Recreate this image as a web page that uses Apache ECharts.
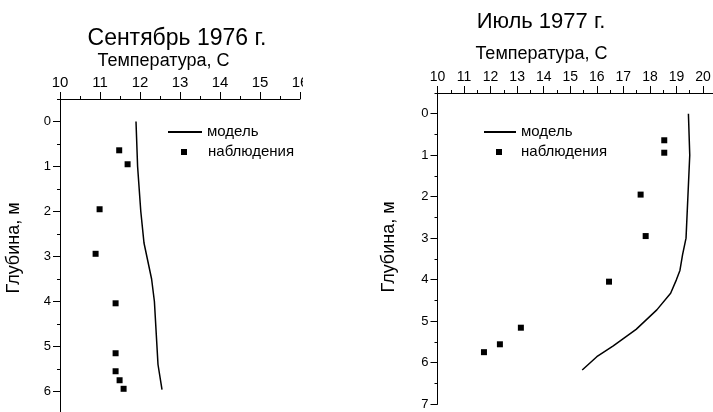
<!DOCTYPE html>
<html>
<head>
    <meta charset="utf-8">
    <title>Температура воды</title>
    <script src="https://cdn.jsdelivr.net/npm/echarts@6.0.0/dist/echarts.min.js"></script>
    <style>
        html, body {
            margin: 0;
            padding: 0;
            background: #fff;
        }

        #chart {
            width: 713px;
            height: 412px;
        }
    </style>
</head>
<body>
<div id="chart"></div>
<script>
    // Сентябрь 1976 г.
    var sepModelTemp = [11.90, 11.94, 12.02, 12.10, 12.29, 12.36, 12.45, 12.55];
    var sepModelDepth = [0, 1.0, 2.0, 2.7, 3.5, 4.0, 5.4, 5.96];
    var sepObsTemp = [11.48, 11.69, 10.99, 10.89, 11.39, 11.39, 11.39, 11.49, 11.59];
    var sepObsDepth = [0.64, 0.95, 1.95, 2.94, 4.04, 5.15, 5.55, 5.75, 5.94];

    // Июль 1977 г.
    var julModelTemp = [19.45, 19.50, 19.43, 19.36, 19.23, 19.13, 19.00, 18.78, 18.26, 17.48, 16.62, 16.00, 15.45];
    var julModelDepth = [0, 1.0, 2.0, 3.0, 3.4, 3.78, 4.0, 4.33, 4.73, 5.2, 5.6, 5.86, 6.18];
    var julObsTemp = [18.54, 18.54, 17.65, 17.84, 16.46, 13.14, 12.35, 11.75];
    var julObsDepth = [0.64, 0.94, 1.95, 2.95, 4.05, 5.16, 5.56, 5.75];

    // подписи осей
    var sepTempTicks = [10, 11, 12, 13, 14, 15, 16];
    var julTempTicks = [10, 11, 12, 13, 14, 15, 16, 17, 18, 19, 20];
    var sepDepthTicks = [0, 1, 2, 3, 4, 5, 6];
    var julDepthTicks = [0, 1, 2, 3, 4, 5, 6, 7];

    function pairs(xs, ys) {
        var out = [];
        for (var i = 0; i < xs.length; i++) {
            out.push([xs[i], ys[i]]);
        }
        return out;
    }

    var font = "'Liberation Sans', Arial, sans-serif";

    // основная ось: линия, длинные штрихи и подписи
    function mainAxis(grid, pos, min, max, ticks, name, nameGap, namePad, labelSize) {
        return {
            type: 'value',
            gridIndex: grid,
            position: pos,
            inverse: pos === 'left',
            min: min,
            max: max,
            name: name,
            nameLocation: 'middle',
            nameGap: nameGap,
            nameTextStyle: {color: '#000', fontSize: 18, fontFamily: font, padding: namePad},
            axisLine: {show: true, onZero: false, lineStyle: {color: '#000', width: 1}},
            axisTick: {show: true, customValues: ticks, length: 7, lineStyle: {color: '#000'}},
            axisLabel: {show: true, customValues: ticks, margin: 9, color: '#000', fontSize: labelSize, fontFamily: font},
            splitLine: {show: false}
        };
    }

    // вспомогательная ось: только короткие штрихи через 0.5
    function minorAxis(grid, pos, min, max) {
        return {
            type: 'value',
            gridIndex: grid,
            position: pos,
            inverse: pos === 'left',
            min: min,
            max: max,
            interval: 0.5,
            axisLine: {show: false, onZero: false},
            axisTick: {show: true, length: 3, lineStyle: {color: '#000'}},
            axisLabel: {show: false},
            splitLine: {show: false}
        };
    }

    var legendText = {fontSize: 15, lineHeight: 15, color: '#000', fontFamily: font};

    // легенда из двух отдельных строк, чтобы значки были разного размера
    function legendLine(x, y, w) {
        return {
            orient: 'vertical', left: x, top: y - 7.5, padding: 0,
            itemWidth: w, itemHeight: 1, selectedMode: false,
            textStyle: legendText,
            data: ['модель']
        };
    }

    function legendDots(x, y, textShift) {
        return {
            orient: 'vertical', left: x - 3, top: y - 7.5, padding: 0,
            itemWidth: 6, itemHeight: 6, selectedMode: false,
            itemStyle: {color: '#000', opacity: 1},
            textStyle: Object.assign({padding: [0, 0, 0, textShift]}, legendText),
            data: [{name: 'наблюдения', icon: 'rect'}]
        };
    }

    var chart = echarts.init(document.getElementById('chart'));

    var option = {
        animation: false,
        backgroundColor: '#fff',
        textStyle: {fontFamily: font, color: '#000'},
        title: [
            {text: 'Сентябрь 1976 г.', left: 177, top: 27, textAlign: 'center', padding: 0,
                textStyle: {fontSize: 23, fontWeight: 'normal', color: '#000', fontFamily: font}},
            {text: 'Июль 1977 г.', left: 541, top: 11, textAlign: 'center', padding: 0,
                textStyle: {fontSize: 22, fontWeight: 'normal', color: '#000', fontFamily: font}}
        ],
        grid: [
            {left: 60, top: 99, width: 240, height: 315, outerBoundsMode: 'none'},
            {left: 437.5, top: 93, width: 278.8, height: 311, outerBoundsMode: 'none'}
        ],
        xAxis: [
            mainAxis(0, 'top', 10, 16, sepTempTicks, 'Температура, С', 28, [0, 33, 0, 0], 15),
            minorAxis(0, 'top', 10, 16),
            mainAxis(1, 'top', 10, 20.5, julTempTicks, 'Температура, С', 30, [0, 71, 0, 0], 14),
            minorAxis(1, 'top', 10, 20.5)
        ],
        yAxis: [
            mainAxis(0, 'left', -0.5, 6.5, sepDepthTicks, 'Глубина, м', 37, [0, 0, 0, 17], 13),
            minorAxis(0, 'left', -0.5, 6.5),
            mainAxis(1, 'left', -0.5, 7, julDepthTicks, 'Глубина, м', 39, [0, 0, 0, 3], 13),
            minorAxis(1, 'left', -0.5, 7)
        ],
        legend: [
            legendLine(167, 132, 34),
            legendDots(184, 152, 16),
            legendLine(483, 132, 32),
            legendDots(499, 152, 14)
        ],
        // левая панель в оригинале обрезана справа
        graphic: [
            {type: 'rect', z: 100, shape: {x: 303, y: 66, width: 40, height: 28}, style: {fill: '#fff'}}
        ],
        series: [
            {
                name: 'модель', type: 'line', xAxisIndex: 0, yAxisIndex: 0,
                data: pairs(sepModelTemp, sepModelDepth),
                symbol: 'none', showSymbol: false,
                lineStyle: {color: '#000', width: 1.5}, itemStyle: {color: '#000'}
            },
            {
                name: 'наблюдения', type: 'scatter', xAxisIndex: 0, yAxisIndex: 0,
                data: pairs(sepObsTemp, sepObsDepth),
                symbol: 'rect', symbolSize: 6, itemStyle: {color: '#000', opacity: 1}
            },
            {
                name: 'модель', type: 'line', xAxisIndex: 2, yAxisIndex: 2,
                data: pairs(julModelTemp, julModelDepth),
                symbol: 'none', showSymbol: false,
                lineStyle: {color: '#000', width: 1.5}, itemStyle: {color: '#000'}
            },
            {
                name: 'наблюдения', type: 'scatter', xAxisIndex: 2, yAxisIndex: 2,
                data: pairs(julObsTemp, julObsDepth),
                symbol: 'rect', symbolSize: 6, itemStyle: {color: '#000', opacity: 1}
            }
        ]
    };

    chart.setOption(option);
</script>
</body>
</html>
